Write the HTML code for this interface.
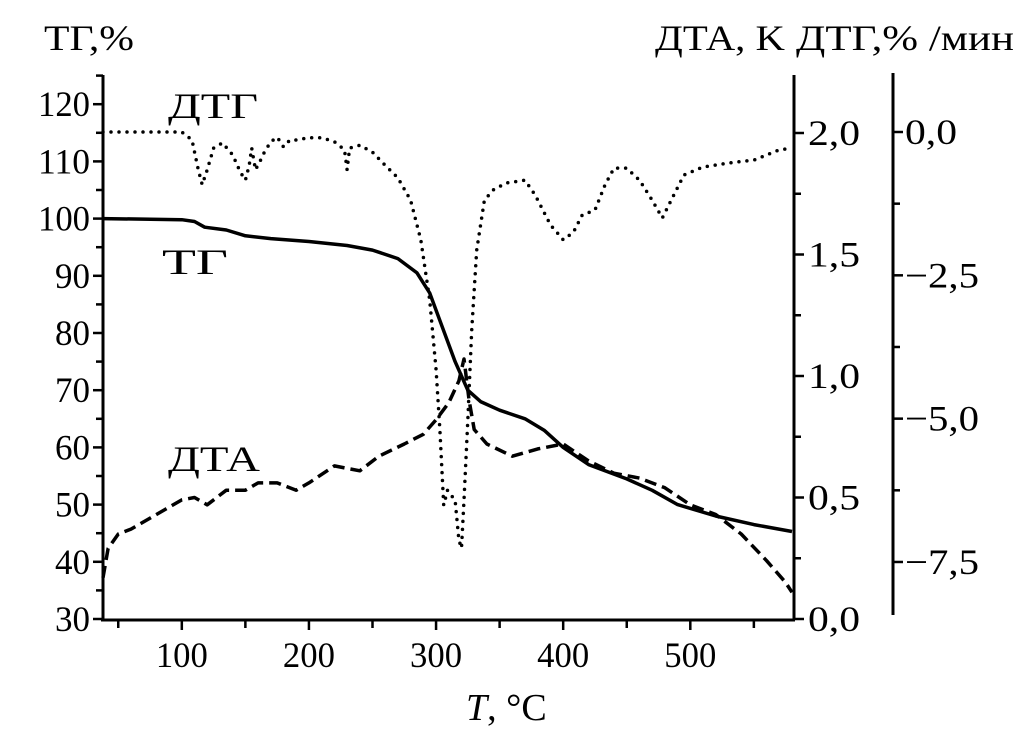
<!DOCTYPE html>
<html><head><meta charset="utf-8"><style>
body{margin:0;background:#fff}
svg text{font-family:"Liberation Serif","DejaVu Serif",serif;fill:#000}
</style></head><body>
<svg id="chart" width="1016" height="741" xmlns="http://www.w3.org/2000/svg">
<g id="axes"></g><g id="series"></g>
<text x="44" y="50" font-size="36" textLength="90" lengthAdjust="spacingAndGlyphs">ТГ,%</text>
<text x="655" y="50" font-size="36" textLength="130" lengthAdjust="spacingAndGlyphs">ДТА, K</text>
<text x="796" y="50" font-size="36" textLength="218" lengthAdjust="spacingAndGlyphs">ДТГ,% /мин</text>
<text x="466" y="720" font-size="38"><tspan font-style="italic">T</tspan>, °C</text>
<text x="168" y="118" font-size="36" textLength="90" lengthAdjust="spacingAndGlyphs">ДТГ</text>
<text x="162" y="274" font-size="36" textLength="66" lengthAdjust="spacingAndGlyphs">ТГ</text>
<text x="168" y="471" font-size="36" textLength="92" lengthAdjust="spacingAndGlyphs">ДТА</text>
</svg>
<script>
const tgT=[38,100,110,118,135,150,170,200,230,250,270,285,295,305,315,325,335,350,370,385,400,420,450,470,490,520,550,580];
const tgV=[100,99.8,99.5,98.5,98,97,96.5,96,95.3,94.5,93,90.5,87,81,75,70,68,66.5,65,63,60,57,54.5,52.5,50,48,46.5,45.3];
const dtaT=[38,42,50,60,80,100,110,120,135,150,160,175,190,200,220,240,255,275,290,300,310,318,322,326,330,340,360,380,400,420,440,460,480,500,520,540,560,575,580];
const dtaV=[0.17,0.29,0.35,0.37,0.43,0.49,0.50,0.47,0.53,0.53,0.56,0.56,0.53,0.56,0.63,0.61,0.67,0.72,0.76,0.82,0.89,0.98,1.07,0.90,0.78,0.72,0.67,0.70,0.72,0.65,0.60,0.58,0.54,0.47,0.43,0.35,0.24,0.15,0.11];
const dtgT=[38,100,108,113,116,120,125,132,140,146,150,153,155,158,162,165,170,175,180,185,190,200,210,220,228,230,232,240,250,260,270,280,288,295,300,303,306,309,312,315,318,320,322,325,328,332,338,345,355,370,378,390,400,408,415,425,433,440,450,460,470,478,485,495,510,530,550,570,580];
const dtgV=[0,0,-0.14,-0.66,-0.92,-0.66,-0.28,-0.19,-0.40,-0.70,-0.84,-0.58,-0.28,-0.66,-0.49,-0.35,-0.17,-0.09,-0.26,-0.14,-0.14,-0.10,-0.10,-0.17,-0.31,-0.66,-0.28,-0.23,-0.35,-0.58,-0.80,-1.19,-1.88,-2.93,-4.15,-5.20,-6.51,-6.25,-6.34,-6.42,-7.12,-7.26,-6.42,-5.03,-3.46,-2.06,-1.19,-1.01,-0.89,-0.84,-1.10,-1.62,-1.88,-1.75,-1.45,-1.36,-0.92,-0.63,-0.63,-0.84,-1.19,-1.50,-1.19,-0.75,-0.61,-0.54,-0.49,-0.31,-0.28];
const xTicks=[100,200,300,400,500];
const tgTicks=[30,40,50,60,70,80,90,100,110,120];
const dtaTicks=["0,0","0,5","1,0","1,5","2,0"];
const dtgTicks=["0,0","−2,5","−5,0","−7,5"];

const NS="http://www.w3.org/2000/svg";
const X=t=>103+(t-38)*(792-103)/(580-38);
const Ytg=v=>619-(v-30)*5.72;
const Ydta=v=>619-v*243;
const Ydtg=v=>132-v*57.33;
const axes=document.getElementById('axes'),ser=document.getElementById('series');
function el(tag,attrs,parent){const e=document.createElementNS(NS,tag);for(const k in attrs)e.setAttribute(k,attrs[k]);parent.appendChild(e);return e;}
function line(x1,y1,x2,y2,w){return el('line',{x1,y1,x2,y2,stroke:'#000','stroke-width':w},axes);}
let a=line(103,75,103,620,3);
a=line(101,620,795,620,3);
a=line(794,75,794,620,3);
a=line(893,73,893,615,3);
for(let t=50;t<=550;t+=50){line(X(t),620,X(t),t%100===0?630:628,2.5);}
xTicks.forEach(t=>{const e=el('text',{x:X(t),y:667,'font-size':36,'text-anchor':'middle',textLength:52,lengthAdjust:'spacingAndGlyphs'},axes);e.textContent=t;

});
for(let v=30;v<=125;v+=5){line(v%10===0?93:96,Ytg(v),103,Ytg(v),2.5);}
tgTicks.forEach(v=>{const e=el('text',{x:90,y:Ytg(v)+12,'font-size':36,'text-anchor':'end',textLength:v>=100?52:35,lengthAdjust:'spacingAndGlyphs'},axes);e.textContent=v;

});
for(let i=0;i<=8;i++){const v=i*0.25;line(794,Ydta(v),i%2===0?804:801,Ydta(v),2.5);}
dtaTicks.forEach((s,i)=>{const e=el('text',{x:808,y:Ydta(i*0.5)+12,'font-size':36,textLength:52,lengthAdjust:'spacingAndGlyphs'},axes);e.textContent=s;

});
for(let i=0;i<=6;i++){const v=-i*1.25;line(893,Ydtg(v),i%2===0?903:900,Ydtg(v),2.5);}
dtgTicks.forEach((s,i)=>{const e=el('text',{x:905,y:Ydtg(-i*2.5)+12,'font-size':36,textLength:i?74:52,lengthAdjust:'spacingAndGlyphs'},axes);e.textContent=s;

});
function path(T,V,Y){return T.map((t,i)=>(i?'L':'M')+X(t).toFixed(1)+','+Y(V[i]).toFixed(1)).join('');}
let p=el('path',{d:path(tgT,tgV,Ytg),fill:'none',stroke:'#000','stroke-width':3.5,'stroke-linejoin':'round'},ser);


p=el('path',{d:path(dtaT,dtaV,Ydta),fill:'none',stroke:'#000','stroke-width':3.5,'stroke-dasharray':'12 6','stroke-linejoin':'round'},ser);


p=el('path',{d:path(dtgT,dtgV,Ydtg),fill:'none',stroke:'#000','stroke-width':3.5,'stroke-dasharray':'0 8','stroke-linecap':'round','stroke-linejoin':'round'},ser);


</script>
</body></html>
